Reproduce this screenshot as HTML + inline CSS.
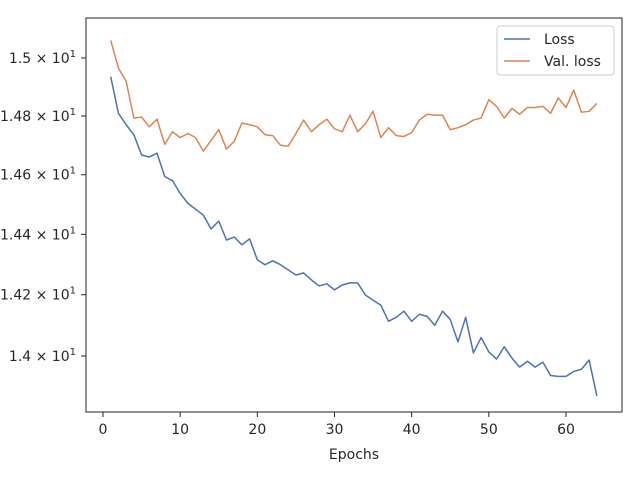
<!DOCTYPE html>
<html><head><meta charset="utf-8"><style>
body{margin:0;background:#fff;font-family:"Liberation Sans","DejaVu Sans",sans-serif;}
svg text{font-family:"DejaVu Sans","Liberation Sans",sans-serif;fill:#262626;}
</style></head><body>
<svg id="chart" width="640" height="480">
<rect x="86" y="18" width="536" height="394" fill="#fff" stroke="#262626" stroke-width="1"/>
<g id="ticks"></g>
<g id="series"></g>
<text x="354" y="459" text-anchor="middle" font-size="14">Epochs</text>
<g>
<rect x="497" y="26" width="117" height="49" rx="3" fill="#fff" stroke="#ccc"/>
<line x1="504" y1="39" x2="530" y2="39" stroke="#4c72b0" stroke-width="1.5"/>
<text x="544" y="44" font-size="14">Loss</text>
<line x1="504" y1="61" x2="530" y2="61" stroke="#dd8452" stroke-width="1.5"/>
<text x="544" y="66" font-size="14">Val. loss</text>
</g>
</svg>
<script>
const xTicks=[0,10,20,30,40,50,60];
const yTicks=[14.0,14.2,14.4,14.6,14.8,15.0];
const yTickLabels=["1.4","1.42","1.44","1.46","1.48","1.5"];
const lossValues=[14.935,14.809,14.770,14.736,14.667,14.660,14.673,14.594,14.580,14.537,14.504,14.484,14.464,14.418,14.444,14.381,14.391,14.365,14.385,14.315,14.299,14.312,14.299,14.282,14.265,14.272,14.249,14.229,14.236,14.216,14.232,14.239,14.239,14.199,14.182,14.166,14.113,14.126,14.146,14.113,14.136,14.129,14.100,14.146,14.119,14.046,14.126,14.010,14.060,14.013,13.990,14.030,13.993,13.964,13.983,13.964,13.980,13.937,13.934,13.934,13.950,13.957,13.987,13.871];
const valLossValues=[15.061,14.965,14.919,14.793,14.796,14.763,14.789,14.703,14.746,14.726,14.740,14.726,14.680,14.716,14.753,14.687,14.713,14.776,14.770,14.763,14.736,14.733,14.700,14.697,14.740,14.786,14.746,14.770,14.789,14.756,14.746,14.803,14.746,14.773,14.816,14.726,14.760,14.733,14.730,14.743,14.786,14.806,14.803,14.803,14.753,14.760,14.770,14.786,14.793,14.856,14.833,14.793,14.826,14.806,14.829,14.829,14.833,14.809,14.862,14.829,14.889,14.813,14.816,14.843];
const NS="http://www.w3.org/2000/svg";
function xs(e){return 103+(e-0)*(566-103)/60;}
function ys(v){return 356-(Math.log10(v)-Math.log10(14))/(Math.log10(15)-Math.log10(14))*298;}
const tg=document.getElementById('ticks');
xTicks.forEach(t=>{
 const l=document.createElementNS(NS,'line');
 l.setAttribute('x1',xs(t));l.setAttribute('x2',xs(t));l.setAttribute('y1',412);l.setAttribute('y2',417);l.setAttribute('stroke','#262626');
 
 
 tg.appendChild(l);
 const tx=document.createElementNS(NS,'text');
 tx.setAttribute('x',xs(t));tx.setAttribute('y',434);tx.setAttribute('text-anchor','middle');tx.setAttribute('font-size','14');
 tx.textContent=t;
 
 
 tg.appendChild(tx);
});
yTicks.forEach((t,i)=>{
 const y=ys(t);
 const l=document.createElementNS(NS,'line');
 l.setAttribute('x1',81);l.setAttribute('x2',86);l.setAttribute('y1',y);l.setAttribute('y2',y);l.setAttribute('stroke','#262626');
 
 
 tg.appendChild(l);
 const tx=document.createElementNS(NS,'text');
 tx.setAttribute('x',76);tx.setAttribute('y',y+5);tx.setAttribute('text-anchor','end');tx.setAttribute('font-size','14');
 tx.innerHTML=yTickLabels[i]+' × 10<tspan dy="-6" font-size="10">1</tspan>';
 
 
 tg.appendChild(tx);
});
const sg=document.getElementById('series');
function line(vals,color,name){
 const p=document.createElementNS(NS,'polyline');
 p.setAttribute('points',vals.map((v,i)=>xs(i+1)+','+ys(v)).join(' '));
 p.setAttribute('fill','none');p.setAttribute('stroke',color);p.setAttribute('stroke-width','1.5');p.setAttribute('stroke-linejoin','round');
 
 
 sg.appendChild(p);
}
line(lossValues,'#4c72b0','loss-line');
line(valLossValues,'#dd8452','val-loss-line');
</script>
</body></html>
